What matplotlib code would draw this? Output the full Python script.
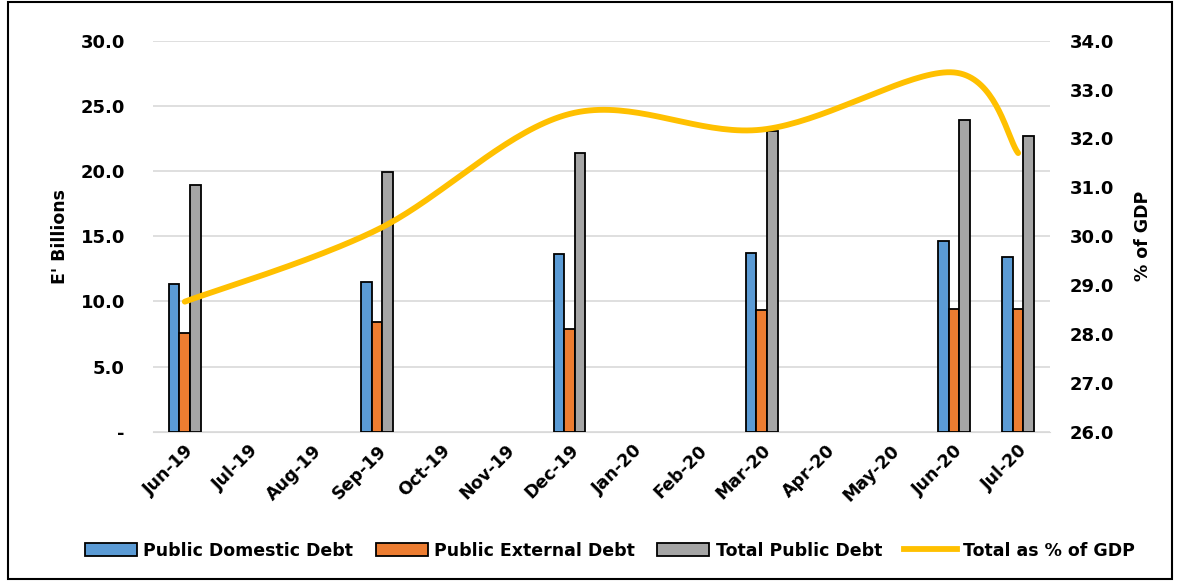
import numpy as np
import matplotlib.pyplot as plt
from matplotlib.patches import Rectangle
from matplotlib.lines import Line2D
from matplotlib.ticker import FuncFormatter

months = ["Jun-19", "Jul-19", "Aug-19", "Sep-19", "Oct-19", "Nov-19", "Dec-19",
          "Jan-20", "Feb-20", "Mar-20", "Apr-20", "May-20", "Jun-20", "Jul-20"]
obs_months = ["Jun-19", "Sep-19", "Dec-19", "Mar-20", "Jun-20", "Jul-20"]

domestic = [11.3, 11.5, 13.6, 13.7, 14.6, 13.4]
external = [7.6, 8.4, 7.9, 9.3, 9.4, 9.4]
total = [18.9, 19.9, 21.4, 23.1, 23.9, 22.7]
pct_gdp = [28.66, 30.13, 32.5, 32.18, 33.35, 31.7]

BLUE = "#5b9bd5"
ORANGE = "#ed7d31"
GRAY = "#a5a5a5"
GOLD = "#ffc000"


def smooth(xs, ys, n=40):
    # Catmull-Rom style smoothing, like Excel's smoothed line
    pts = np.column_stack([xs, ys]).astype(float)
    ext = np.vstack([pts[0], pts, pts[-1]])
    out = []
    for i in range(1, len(ext) - 2):
        p0, p1, p2, p3 = ext[i - 1], ext[i], ext[i + 1], ext[i + 2]
        c1 = p1 + (p2 - p0) / 6
        c2 = p2 - (p3 - p1) / 6
        t = np.linspace(0, 1, n)[:, None]
        seg = ((1 - t) ** 3) * p1 + 3 * ((1 - t) ** 2) * t * c1 + 3 * (1 - t) * t ** 2 * c2 + t ** 3 * p2
        out.append(seg)
    out = np.vstack(out)
    return out[:, 0], out[:, 1]


plt.rcParams["font.family"] = "DejaVu Sans"
plt.rcParams["font.weight"] = "bold"

fig, ax = plt.subplots(figsize=(11.84, 5.81), dpi=100)
fig.subplots_adjust(left=0.129, right=0.887, top=0.93, bottom=0.257)

x = np.array([months.index(m) for m in obs_months])
w = 0.165
ax.bar(x - w, domestic, w, color=BLUE, edgecolor="black", linewidth=1.3, zorder=3)
ax.bar(x, external, w, color=ORANGE, edgecolor="black", linewidth=1.3, zorder=3)
ax.bar(x + w, total, w, color=GRAY, edgecolor="black", linewidth=1.3, zorder=3)

ax.set_xlim(-0.5, len(months) - 0.5)
ax.set_ylim(0, 30)
ax.set_yticks(np.arange(0, 30.1, 5))
ax.yaxis.set_major_formatter(FuncFormatter(lambda v, p: "-" if v == 0 else f"{v:.1f}"))
ax.set_xticks(range(len(months)))
ax.set_xticklabels(months, rotation=45, ha="right", rotation_mode="anchor")
ax.grid(axis="y", color="#d9d9d9", linewidth=1.2, zorder=0)
for s in ["top", "right", "left"]:
    ax.spines[s].set_visible(False)
ax.spines["bottom"].set_color("#d9d9d9")
ax.tick_params(axis="y", length=0, labelsize=13, pad=20)
ax.tick_params(axis="x", length=0, labelsize=12.5, pad=7)
ax.set_ylabel("E' Billions", fontsize=12.5, fontweight="bold", labelpad=8)

ax2 = ax.twinx()
sx, sy = smooth(x, pct_gdp)
ax2.plot(sx, sy, color=GOLD, linewidth=4.2, solid_capstyle="round", zorder=4)
ax2.set_ylim(26, 34)
ax2.set_yticks(np.arange(26, 34.1, 1))
ax2.yaxis.set_major_formatter(FuncFormatter(lambda v, p: f"{v:.1f}"))
for s in ["top", "right", "left", "bottom"]:
    ax2.spines[s].set_visible(False)
ax2.tick_params(axis="y", length=0, labelsize=13, pad=14)
ax2.set_ylabel("% of GDP", fontsize=12.5, fontweight="bold", labelpad=14)

handles = [
    Rectangle((0, 0), 1, 1, facecolor=BLUE, edgecolor="black", linewidth=1.3),
    Rectangle((0, 0), 1, 1, facecolor=ORANGE, edgecolor="black", linewidth=1.3),
    Rectangle((0, 0), 1, 1, facecolor=GRAY, edgecolor="black", linewidth=1.3),
    Line2D([], [], color=GOLD, linewidth=4.2),
]
labels = ["Public Domestic Debt", "Public External Debt", "Total Public Debt", "Total as % of GDP"]
fig.legend(handles, labels, loc="lower center", bbox_to_anchor=(0.515, 0.01), ncol=4,
           frameon=False, fontsize=12.5, handlelength=3.0, handleheight=0.8,
           handletextpad=0.35, columnspacing=1.3)

fig.patches.append(Rectangle((0.007, 0.003), 0.983, 0.994, transform=fig.transFigure,
                             fill=False, edgecolor="black", linewidth=1.5))

fig.savefig("out.png", dpi=100)
